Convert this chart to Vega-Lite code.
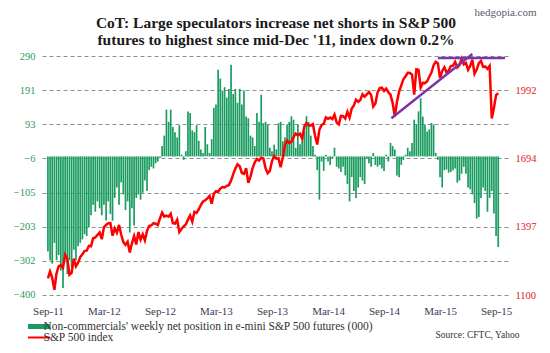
{
"$schema": "https://vega.github.io/schema/vega-lite/v6.json",
"width": 468, "height": 239,
"autosize": {"type": "none"},
"padding": {"left": 42, "top": 56, "right": 40, "bottom": 58},
"background": "white",
"config": {"view": {"stroke": null}, "font": "Liberation Serif"},
"title": {"text": ["CoT: Large speculators increase net shorts in S&P 500", "futures to highest since mid-Dec '11, index down 0.2%"], "font": "Liberation Serif", "fontSize": 15.5, "fontWeight": "bold", "color": "#1a1a1a", "anchor": "middle", "offset": -42, "lineHeight": 17},
"data": {"values": [
{"date":"2011-09-13","net":-275,"spx":1172},{"date":"2011-09-20","net":-300,"spx":1202},{"date":"2011-09-27","net":-310,"spx":1175},{"date":"2011-10-04","net":-250,"spx":1123},{"date":"2011-10-11","net":-300,"spx":1195},{"date":"2011-10-18","net":-285,"spx":1225},{"date":"2011-10-25","net":-330,"spx":1229},{"date":"2011-11-01","net":-380,"spx":1219},{"date":"2011-11-08","net":-290,"spx":1275},{"date":"2011-11-15","net":-340,"spx":1257},{"date":"2011-11-22","net":-300,"spx":1188},{"date":"2011-11-29","net":-320,"spx":1196},{"date":"2011-12-06","net":-270,"spx":1258},{"date":"2011-12-13","net":-300,"spx":1225},{"date":"2011-12-20","net":-260,"spx":1241},{"date":"2011-12-27","net":-250,"spx":1265},
{"date":"2012-01-03","net":-240,"spx":1277},{"date":"2012-01-10","net":-225,"spx":1292},{"date":"2012-01-17","net":-230,"spx":1293},{"date":"2012-01-24","net":-205,"spx":1314},{"date":"2012-01-31","net":-170,"spx":1312},{"date":"2012-02-07","net":-140,"spx":1347},{"date":"2012-02-14","net":-160,"spx":1350},{"date":"2012-02-21","net":-130,"spx":1362},{"date":"2012-02-28","net":-150,"spx":1372},{"date":"2012-03-06","net":-170,"spx":1343},{"date":"2012-03-13","net":-140,"spx":1395},{"date":"2012-03-20","net":-185,"spx":1405},{"date":"2012-03-27","net":-130,"spx":1412},{"date":"2012-04-03","net":-167,"spx":1413},{"date":"2012-04-10","net":-186,"spx":1358},{"date":"2012-04-17","net":-120,"spx":1390},{"date":"2012-04-24","net":-90,"spx":1371},{"date":"2012-05-01","net":-140,"spx":1405},{"date":"2012-05-08","net":-75,"spx":1363},{"date":"2012-05-15","net":-110,"spx":1330},{"date":"2012-05-22","net":-155,"spx":1318},{"date":"2012-05-29","net":-130,"spx":1332},{"date":"2012-06-05","net":-220,"spx":1285},{"date":"2012-06-12","net":-150,"spx":1325},{"date":"2012-06-19","net":-200,"spx":1357},{"date":"2012-06-26","net":-120,"spx":1320},{"date":"2012-07-03","net":-110,"spx":1374},{"date":"2012-07-10","net":-125,"spx":1341},{"date":"2012-07-17","net":-105,"spx":1364},{"date":"2012-07-24","net":-70,"spx":1338},{"date":"2012-07-31","net":-100,"spx":1379},{"date":"2012-08-07","net":-40,"spx":1401},{"date":"2012-08-14","net":-30,"spx":1403},{"date":"2012-08-21","net":-35,"spx":1413},{"date":"2012-08-28","net":-20,"spx":1410},{"date":"2012-09-04","net":-15,"spx":1404},{"date":"2012-09-11","net":-5,"spx":1433},{"date":"2012-09-18","net":30,"spx":1459},{"date":"2012-09-25","net":60,"spx":1441},{"date":"2012-10-02","net":135,"spx":1445},{"date":"2012-10-09","net":100,"spx":1441},{"date":"2012-10-16","net":135,"spx":1454},{"date":"2012-10-23","net":85,"spx":1413},{"date":"2012-10-30","net":70,"spx":1411},{"date":"2012-11-06","net":55,"spx":1428},{"date":"2012-11-13","net":90,"spx":1374},{"date":"2012-11-20","net":5,"spx":1387},{"date":"2012-11-27","net":-10,"spx":1399},{"date":"2012-12-04","net":15,"spx":1407},{"date":"2012-12-11","net":130,"spx":1428},{"date":"2012-12-18","net":125,"spx":1446},{"date":"2012-12-25","net":75,"spx":1419},
{"date":"2013-01-01","net":70,"spx":1462},{"date":"2013-01-08","net":90,"spx":1457},{"date":"2013-01-15","net":45,"spx":1472},{"date":"2013-01-22","net":20,"spx":1492},{"date":"2013-01-29","net":10,"spx":1507},{"date":"2013-02-05","net":85,"spx":1512},{"date":"2013-02-12","net":35,"spx":1520},{"date":"2013-02-19","net":10,"spx":1531},{"date":"2013-02-26","net":50,"spx":1497},{"date":"2013-03-05","net":140,"spx":1540},{"date":"2013-03-12","net":150,"spx":1552},{"date":"2013-03-19","net":250,"spx":1549},{"date":"2013-03-26","net":225,"spx":1563},{"date":"2013-04-02","net":190,"spx":1570},{"date":"2013-04-09","net":200,"spx":1568},{"date":"2013-04-16","net":170,"spx":1575},{"date":"2013-04-23","net":195,"spx":1578},{"date":"2013-04-30","net":265,"spx":1598},{"date":"2013-05-07","net":180,"spx":1626},{"date":"2013-05-14","net":195,"spx":1650},{"date":"2013-05-21","net":155,"spx":1669},{"date":"2013-05-28","net":195,"spx":1660},{"date":"2013-06-04","net":150,"spx":1631},{"date":"2013-06-11","net":190,"spx":1627},{"date":"2013-06-18","net":115,"spx":1652},{"date":"2013-06-25","net":110,"spx":1588},{"date":"2013-07-02","net":60,"spx":1615},{"date":"2013-07-09","net":55,"spx":1652},{"date":"2013-07-16","net":30,"spx":1677},{"date":"2013-07-23","net":125,"spx":1692},{"date":"2013-07-30","net":100,"spx":1685},{"date":"2013-08-06","net":178,"spx":1697},{"date":"2013-08-13","net":96,"spx":1694},{"date":"2013-08-20","net":100,"spx":1652},{"date":"2013-08-27","net":92,"spx":1630},{"date":"2013-09-03","net":25,"spx":1640},{"date":"2013-09-10","net":15,"spx":1683},{"date":"2013-09-17","net":34,"spx":1705},{"date":"2013-09-24","net":20,"spx":1693},{"date":"2013-10-01","net":96,"spx":1695},{"date":"2013-10-08","net":100,"spx":1656},{"date":"2013-10-15","net":44,"spx":1698},{"date":"2013-10-22","net":55,"spx":1754},{"date":"2013-10-29","net":92,"spx":1772},{"date":"2013-11-05","net":100,"spx":1762},{"date":"2013-11-12","net":116,"spx":1767},{"date":"2013-11-19","net":106,"spx":1787},{"date":"2013-11-26","net":25,"spx":1802},{"date":"2013-12-03","net":92,"spx":1795},{"date":"2013-12-10","net":35,"spx":1802},{"date":"2013-12-17","net":45,"spx":1781},{"date":"2013-12-24","net":73,"spx":1833},{"date":"2013-12-31","net":116,"spx":1848},
{"date":"2014-01-07","net":100,"spx":1838},{"date":"2014-01-14","net":60,"spx":1838},{"date":"2014-01-21","net":30,"spx":1843},{"date":"2014-01-28","net":5,"spx":1792},{"date":"2014-02-04","net":-40,"spx":1755},{"date":"2014-02-11","net":-125,"spx":1819},{"date":"2014-02-18","net":-15,"spx":1840},{"date":"2014-02-25","net":-42,"spx":1845},{"date":"2014-03-04","net":5,"spx":1873},{"date":"2014-03-11","net":-15,"spx":1867},{"date":"2014-03-18","net":-25,"spx":1872},{"date":"2014-03-25","net":-5,"spx":1865},{"date":"2014-04-01","net":25,"spx":1885},{"date":"2014-04-08","net":-30,"spx":1851},{"date":"2014-04-15","net":-35,"spx":1842},{"date":"2014-04-22","net":-45,"spx":1879},{"date":"2014-04-29","net":-30,"spx":1878},{"date":"2014-05-06","net":-55,"spx":1868},{"date":"2014-05-13","net":-80,"spx":1897},{"date":"2014-05-20","net":-130,"spx":1872},{"date":"2014-05-27","net":-60,"spx":1911},{"date":"2014-06-03","net":-100,"spx":1925},{"date":"2014-06-10","net":-120,"spx":1950},{"date":"2014-06-17","net":-90,"spx":1941},{"date":"2014-06-24","net":-60,"spx":1949},{"date":"2014-07-01","net":-70,"spx":1973},{"date":"2014-07-08","net":-80,"spx":1963},{"date":"2014-07-15","net":-5,"spx":1973},{"date":"2014-07-22","net":-20,"spx":1983},{"date":"2014-07-29","net":-30,"spx":1970},{"date":"2014-08-05","net":10,"spx":1920},{"date":"2014-08-12","net":-25,"spx":1933},{"date":"2014-08-19","net":-30,"spx":1982},{"date":"2014-08-26","net":-25,"spx":2000},{"date":"2014-09-02","net":-35,"spx":2002},{"date":"2014-09-09","net":-42,"spx":1988},{"date":"2014-09-16","net":5,"spx":1998},{"date":"2014-09-23","net":-15,"spx":1982},{"date":"2014-09-30","net":39,"spx":1972},{"date":"2014-10-07","net":30,"spx":1935},{"date":"2014-10-14","net":20,"spx":1877},{"date":"2014-10-21","net":-55,"spx":1941},{"date":"2014-10-28","net":-60,"spx":1985},{"date":"2014-11-04","net":-25,"spx":2012},{"date":"2014-11-11","net":-10,"spx":2039},{"date":"2014-11-18","net":5,"spx":2052},{"date":"2014-11-25","net":25,"spx":2067},{"date":"2014-12-02","net":15,"spx":2066},{"date":"2014-12-09","net":39,"spx":2059},{"date":"2014-12-16","net":106,"spx":1972},{"date":"2014-12-23","net":92,"spx":2082},{"date":"2014-12-30","net":130,"spx":2080},
{"date":"2015-01-06","net":168,"spx":2003},{"date":"2015-01-13","net":115,"spx":2023},{"date":"2015-01-20","net":92,"spx":2022},{"date":"2015-01-27","net":72,"spx":2030},{"date":"2015-02-03","net":78,"spx":2050},{"date":"2015-02-10","net":96,"spx":2068},{"date":"2015-02-17","net":92,"spx":2100},{"date":"2015-02-24","net":10,"spx":2115},{"date":"2015-03-03","net":-10,"spx":2108},{"date":"2015-03-10","net":-60,"spx":2044},{"date":"2015-03-17","net":-90,"spx":2075},{"date":"2015-03-24","net":-40,"spx":2091},{"date":"2015-03-31","net":-38,"spx":2068},{"date":"2015-04-07","net":-47,"spx":2076},{"date":"2015-04-14","net":-45,"spx":2096},{"date":"2015-04-21","net":-40,"spx":2098},{"date":"2015-04-28","net":-35,"spx":2114},{"date":"2015-05-05","net":-76,"spx":2090},{"date":"2015-05-12","net":-70,"spx":2100},{"date":"2015-05-19","net":-50,"spx":2128},{"date":"2015-05-26","net":-30,"spx":2104},{"date":"2015-06-02","net":-50,"spx":2110},{"date":"2015-06-09","net":-90,"spx":2080},{"date":"2015-06-16","net":-95,"spx":2097},{"date":"2015-06-23","net":-110,"spx":2124},{"date":"2015-06-30","net":-135,"spx":2063},{"date":"2015-07-07","net":-180,"spx":2081},{"date":"2015-07-14","net":-175,"spx":2109},{"date":"2015-07-21","net":-120,"spx":2119},{"date":"2015-07-28","net":-90,"spx":2093},{"date":"2015-08-04","net":-100,"spx":2094},{"date":"2015-08-11","net":-160,"spx":2084},{"date":"2015-08-18","net":-120,"spx":2097},{"date":"2015-08-25","net":-100,"spx":1868},{"date":"2015-09-01","net":-165,"spx":1914},{"date":"2015-09-08","net":-230,"spx":1970},{"date":"2015-09-15","net":-262,"spx":1978}
]},
"layer": [
{
"mark": {"type": "bar", "size": 1.7},
"encoding": {
"x": {"field": "date", "type": "temporal",
"scale": {"domain": [{"year": 2011, "month": 9, "date": 10}, {"year": 2015, "month": 10, "date": 7}]},
"axis": {"values": [{"year": 2011, "month": 9, "date": 13}, {"year": 2012, "month": 3, "date": 13}, {"year": 2012, "month": 9, "date": 11}, {"year": 2013, "month": 3, "date": 12}, {"year": 2013, "month": 9, "date": 10}, {"year": 2014, "month": 3, "date": 11}, {"year": 2014, "month": 9, "date": 9}, {"year": 2015, "month": 3, "date": 10}, {"year": 2015, "month": 9, "date": 8}],
"format": "%b-%y", "labelFont": "Liberation Serif", "labelFontSize": 11, "labelColor": "#3c3c50", "labelPadding": 10, "ticks": false, "domain": false, "grid": false, "labelFlush": false, "labelOverlap": false,
"title": "Source: CFTC, Yahoo", "titleFont": "Liberation Serif", "titleFontSize": 9.5, "titleFontWeight": "normal", "titleColor": "#333333", "titleAnchor": "end", "titleAlign": "right", "titleX": 477, "titleY": 42, "titleBaseline": "alphabetic"}},
"y": {"field": "net", "type": "quantitative",
"scale": {"domain": [-400.5, 290], "nice": false, "zero": false},
"axis": {"values": [-400, -302, -203, -105, -6, 93, 191, 290], "labelFont": "Liberation Serif", "labelFontSize": 10.5, "labelColor": "#2e9a5c", "labelPadding": 7, "ticks": false, "domain": false, "grid": true, "gridDash": [4, 3], "gridColor": "#8f8f8f", "gridWidth": 1, "title": null}},
"color": {"datum": "Non-commercials' weekly net position in e-mini S&P 500 futures (000)",
"scale": {"domain": ["Non-commercials' weekly net position in e-mini S&P 500 futures (000)", "S&P 500 index"], "range": ["#1a9c60", "#ff0000"]},
"legend": {"orient": "none", "legendX": -14, "legendY": 265, "title": null, "direction": "vertical", "symbolType": "M-5,0H5", "symbolSize": 42, "symbolStrokeWidth": 4, "clipHeight": 11, "labelFont": "Liberation Serif", "labelFontSize": 11.5, "labelColor": "#333333", "labelLimit": 500, "rowPadding": -2, "labelOffset": 4,
"encode": {"symbols": {"update": {"stroke": {"signal": "datum.value === 'S&P 500 index' ? '#ff0000' : '#1a9c60'"}, "strokeWidth": {"signal": "datum.value === 'S&P 500 index' ? 2 : 5"}}}}}}
}
},
{
"layer": [
{
"mark": {"type": "line", "strokeWidth": 2.5},
"encoding": {
"x": {"field": "date", "type": "temporal"},
"y": {"field": "spx", "type": "quantitative",
"scale": {"domain": [1100, 2140], "nice": false, "zero": false},
"axis": {"orient": "right", "values": [1100, 1249, 1397, 1546, 1694, 1843, 1992, 2140], "format": "d", "labelFont": "Liberation Serif", "labelFontSize": 10.5, "labelColor": "#e02020", "labelPadding": 5, "ticks": false, "domain": false, "grid": false,
"title": "hedgopia.com", "titleAngle": 0, "titleFont": "Liberation Serif", "titleFontSize": 11, "titleFontWeight": "normal", "titleColor": "#556070", "titleX": -5, "titleY": -41, "titleAlign": "center", "titleBaseline": "alphabetic"}},
"color": {"datum": "S&P 500 index"}
}
},
{
"data": {"values": [
{"seg": "trend", "date": "2014-10-03", "spx": 1869},
{"seg": "trend", "date": "2015-06-23", "spx": 2149},
{"seg": "top", "date": "2015-03-03", "spx": 2131},
{"seg": "top", "date": "2015-10-07", "spx": 2131}
]},
"mark": {"type": "line", "color": "#7b35a8", "strokeWidth": 2.5},
"encoding": {
"x": {"field": "date", "type": "temporal"},
"y": {"field": "spx", "type": "quantitative"},
"detail": {"field": "seg"}
}
}
]
}
],
"resolve": {"scale": {"y": "independent"}}
}
